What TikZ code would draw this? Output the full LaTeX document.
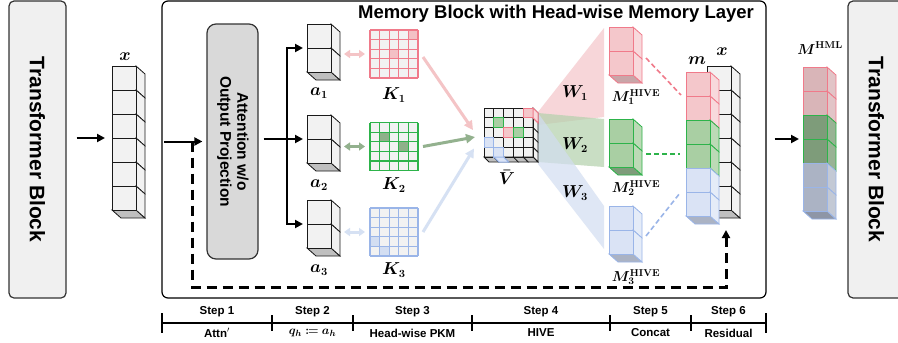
\documentclass[tikz,border=0pt]{standalone}
\usepackage[no-math]{fontspec}
\setmainfont{Liberation Sans}
\usepackage{amsmath,mathtools,bm}
\usetikzlibrary{arrows.meta,calc}
\definecolor{cellgray}{HTML}{F2F2F2}
\definecolor{botgray}{HTML}{BFBFBF}
\definecolor{lineblk}{HTML}{1A1A1A}
\definecolor{tbline}{HTML}{333333}
\definecolor{pkL}{HTML}{F07A8A}
\definecolor{pkF}{HTML}{F4C7CB}
\definecolor{pkS}{HTML}{F8D9DC}
\definecolor{pkB}{HTML}{C9A5A8}
\definecolor{gnL}{HTML}{2DB34A}
\definecolor{gnF}{HTML}{A9CFA3}
\definecolor{gnS}{HTML}{BCDAB6}
\definecolor{gnB}{HTML}{7E9C7A}
\definecolor{blL}{HTML}{9AB5E8}
\definecolor{blF}{HTML}{DAE3F5}
\definecolor{blS}{HTML}{E5ECF8}
\definecolor{blB}{HTML}{ABB3C4}
\definecolor{hpF}{HTML}{D9B5B8}
\definecolor{hpS}{HTML}{E2C4C7}
\definecolor{hgF}{HTML}{7E9C7A}
\definecolor{hgS}{HTML}{98B394}
\definecolor{hbF}{HTML}{ABB3C4}
\definecolor{hbS}{HTML}{C3C9D5}
\definecolor{hbB}{HTML}{8E96A6}
\definecolor{arPk}{HTML}{F4C4C6}
\definecolor{arGn}{HTML}{93B18E}
\definecolor{arBl}{HTML}{D6E1F3}
\definecolor{kPk}{HTML}{F3C0C5}
\definecolor{kGn}{HTML}{8FB08A}
\definecolor{kBl}{HTML}{D3DEF2}
\definecolor{wPk}{HTML}{F2BCC0}
\definecolor{wGn}{HTML}{B3D1AC}
\definecolor{wBl}{HTML}{D2DDF1}
\definecolor{tbfill}{HTML}{F0F0F0}
\definecolor{attfill}{HTML}{D9D9D9}

\newcommand{\ccell}[5]{%
  \filldraw[fill=#5,draw=#4,cubeline] (#1+24,#2) -- ++(9,8) -- ++(0,24) -- ++(-9,-8) -- cycle;
  \filldraw[fill=#3,draw=#4,cubeline] (#1,#2) rectangle ++(24,24);}
\newcommand{\cbottom}[4]{%
  \filldraw[fill=#3,draw=#4,cubeline] (#1,#2) -- ++(24,0) -- ++(9,8) -- ++(-24,0) -- cycle;}
\newcommand{\kcell}[4]{\fill[#4] ($(#1.north west)+(#3*9.6,#2*9.6)$) rectangle ++(9.6,9.6);}
\newcommand{\kgrid}[2]{%
  \foreach \i in {0,...,5}{%
    \draw[#2,kline] ($(#1.north west)+(\i*9.6,0)$) -- ($(#1.south west)+(\i*9.6,0)$);
    \draw[#2,kline] ($(#1.north west)+(0,\i*9.6)$) -- ($(#1.north east)+(0,\i*9.6)$);}}

\begin{document}
\begin{tikzpicture}[x=1pt,y=-1pt,
  cubeline/.style={line width=0.8pt},
  kline/.style={line width=1.2pt},
  anchorbox/.style={rectangle,draw=none,fill=none,inner sep=0pt,outer sep=0pt},
  tb/.style={rectangle,rounded corners=5pt,draw=tbline,line width=1.2pt,fill=tbfill,
    minimum width=57pt,minimum height=297pt,inner sep=0pt,font=\fontsize{21}{25}\selectfont\bfseries},
  mbox/.style={rectangle,rounded corners=6pt,draw=black,line width=1.2pt,fill=white,
    minimum width=604pt,minimum height=297pt,inner sep=0pt},
  attn/.style={rectangle,rounded corners=9pt,draw=tbline,line width=1.2pt,fill=attfill,
    minimum width=51pt,minimum height=235pt,inner sep=0pt,font=\fontsize{15.5}{18}\selectfont\bfseries},
  ttl/.style={inner sep=0pt,font=\fontsize{18.5}{22}\selectfont\bfseries},
  mlab/.style={inner sep=0pt,font=\fontsize{16}{19}\selectfont},
  hlab/.style={inner sep=0pt,font=\fontsize{14.5}{17}\selectfont},
  steplab/.style={inner sep=0pt,font=\fontsize{11.5}{13}\selectfont\bfseries},
  barline/.style={line width=1.3pt,draw=black},
  arr/.style={-{Triangle[length=8pt,width=8pt]},line width=2pt,draw=black},
  dbl/.style={{Triangle[length=6pt,width=8pt]}-{Triangle[length=6pt,width=8pt]},line width=3pt},
  karr/.style={-{Triangle[length=9pt,width=9pt]},line width=3pt},
  dasharr/.style={-{Triangle[length=8pt,width=8pt]},line width=3pt,dash pattern=on 10pt off 6pt},
  cdash/.style={line width=1.6pt,dash pattern=on 5pt off 3pt}]
\useasboundingbox (0,0) rectangle (898,343);

% Transformer blocks and memory block frame
\node[tb] (tb1) at (37.5,149.5) {\rotatebox{-90}{Transformer Block}};
\node[tb] (tb2) at (876.5,149.5) {\rotatebox{-90}{Transformer Block}};
\node[mbox] (mb) at (464,149.5) {};
\node[ttl] (title) at (556,14) {Memory Block with Head-wise Memory Layer};

% anchor nodes (front faces)
\node[anchorbox,minimum width=24pt,minimum height=144pt] (xv) at (124,138) {};
\node[attn] (att) at (232.5,141.5) {\rotatebox{-90}{\begin{tabular}{@{}c@{}}Attention w/o\\[-1pt]Output Projection\end{tabular}}};
\node[anchorbox,minimum width=24pt,minimum height=48pt] (a1) at (319,48) {};
\node[anchorbox,minimum width=24pt,minimum height=48pt] (a2) at (319,139) {};
\node[anchorbox,minimum width=24pt,minimum height=48pt] (a3) at (319,224) {};
\node[anchorbox,minimum size=48pt,fill=cellgray] (k1) at (394,54) {};
\node[anchorbox,minimum size=48pt,fill=cellgray] (k2) at (394,146.5) {};
\node[anchorbox,minimum size=48pt,fill=cellgray] (k3) at (394,232) {};
\node[anchorbox,minimum size=49pt] (vb) at (508.5,132.5) {};
\node[anchorbox,minimum width=24pt,minimum height=48pt] (m1) at (621,51) {};
\node[anchorbox,minimum width=24pt,minimum height=48pt] (m2) at (621,143) {};
\node[anchorbox,minimum width=24pt,minimum height=48pt] (m3) at (621,230) {};
\node[anchorbox,minimum width=24pt,minimum height=144pt] (xm) at (719,138) {};
\node[anchorbox,minimum width=24pt,minimum height=144pt] (mst) at (698,144) {};
\node[anchorbox,minimum width=24pt,minimum height=144pt] (hml) at (815,139) {};

% W projections
\fill[wPk,opacity=0.6] ($(vb.north east)+(5,4)$) -- ($(m1.north west)+(-5,1)$) -- ($(m1.south west)+(-5,42)$) -- ($(vb.north east)+(5,17)$) -- cycle;
\fill[wGn,opacity=0.7] ($(vb.north east)+(5,5)$) -- ($(m2.north west)+(-5,0)$) -- ($(m2.south west)+(-5,0)$) -- ($(vb.south east)+(5,5)$) -- cycle;
\fill[wBl,opacity=0.7] ($(vb.north east)+(5,5)$) -- ($(m3.north west)+(-5,0)$) -- ($(m3.south west)+(-5,-5)$) -- ($(vb.south east)+(5,7)$) -- cycle;

% x vector
\cbottom{112}{210}{botgray}{lineblk}
\foreach \i in {0,...,5}{\pgfmathsetmacro\yy{66+24*\i}\ccell{112}{\yy}{cellgray}{lineblk}{cellgray}}

% a cubes
\cbottom{307}{72}{botgray}{lineblk}
\ccell{307}{24}{cellgray}{lineblk}{cellgray}\ccell{307}{48}{cellgray}{lineblk}{cellgray}
\cbottom{307}{163}{botgray}{lineblk}
\ccell{307}{115}{cellgray}{lineblk}{cellgray}\ccell{307}{139}{cellgray}{lineblk}{cellgray}
\cbottom{307}{248}{botgray}{lineblk}
\ccell{307}{200}{cellgray}{lineblk}{cellgray}\ccell{307}{224}{cellgray}{lineblk}{cellgray}

% K grids
\kcell{k1}{0}{4}{kPk}\kcell{k1}{2}{2}{kPk}\kgrid{k1}{pkL}
\kcell{k2}{1}{1}{kGn}\kcell{k2}{2}{3}{kGn}\kgrid{k2}{gnL}
\kcell{k3}{3}{0}{kBl}\kcell{k3}{4}{1}{kBl}\kgrid{k3}{blL}

% V bar cube
\fill[cellgray] (vb.north west) rectangle (vb.south east);
\foreach \r in {0,...,4}{\filldraw[fill=cellgray,draw=lineblk,cubeline] ($(vb.north east)+(0,9.8*\r)$) -- ++(5,5) -- ++(0,9.8) -- ++(-5,-5) -- cycle;}
\foreach \c in {0,...,4}{\filldraw[fill=botgray,draw=lineblk,cubeline] ($(vb.south west)+(9.8*\c,0)$) -- ++(9.8,0) -- ++(5,5) -- ++(-9.8,0) -- cycle;}
\foreach \i in {0,...,5}{%
  \draw[lineblk,line width=1pt] ($(vb.north west)+(9.8*\i,0)$) -- ($(vb.south west)+(9.8*\i,0)$);
  \draw[lineblk,line width=1pt] ($(vb.north west)+(0,9.8*\i)$) -- ($(vb.north east)+(0,9.8*\i)$);}
\foreach \r/\c/\f/\l in {0/4/pkF/pkL,1/1/gnF/gnL,2/2/pkF/pkL,2/3/gnF/gnL,3/0/blF/blL,4/1/blF/blL}{%
  \filldraw[fill=\f,draw=\l,line width=1pt] ($(vb.north west)+(9.8*\c,9.8*\r)$) rectangle ++(9.8,9.8);}
\filldraw[fill=pkS,draw=pkL,line width=1pt] (vb.north east) -- ++(5,5) -- ++(0,9.8) -- ++(-5,-5) -- cycle;
\filldraw[fill=blF,draw=blL,line width=1pt] ($(vb.south west)+(9.8,0)$) -- ++(9.8,0) -- ++(5,5) -- ++(-9.8,0) -- cycle;

% M^HIVE cubes
\cbottom{609}{75}{pkB}{pkL}
\ccell{609}{27}{pkF}{pkL}{pkS}\ccell{609}{51}{pkF}{pkL}{pkS}
\cbottom{609}{167}{gnB}{gnL}
\ccell{609}{119}{gnF}{gnL}{gnS}\ccell{609}{143}{gnF}{gnL}{gnS}
\cbottom{609}{254}{blB}{blL}
\ccell{609}{206}{blF}{blL}{blS}\ccell{609}{230}{blF}{blL}{blS}

% x column in memory block, then m stack
\cbottom{707}{210}{botgray}{lineblk}
\foreach \i in {0,...,5}{\pgfmathsetmacro\yy{66+24*\i}\ccell{707}{\yy}{cellgray}{lineblk}{cellgray}}
\cbottom{686}{216}{blB}{blL}
\foreach \i/\f/\l/\s in {0/pkF/pkL/pkS,1/pkF/pkL/pkS,2/gnF/gnL/gnS,3/gnF/gnL/gnS,4/blF/blL/blS,5/blF/blL/blS}{%
  \pgfmathsetmacro\yy{72+24*\i}\ccell{686}{\yy}{\f}{\l}{\s}}

% M^HML stack
\cbottom{803}{211}{hbB}{blL}
\foreach \i/\f/\l/\s in {0/hpF/pkL/hpS,1/hpF/pkL/hpS,2/hgF/gnL/hgS,3/hgF/gnL/hgS,4/hbF/blL/hbS,5/hbF/blL/hbS}{%
  \pgfmathsetmacro\yy{67+24*\i}\ccell{803}{\yy}{\f}{\l}{\s}}

% main arrows
\draw[arr] ($(tb1.east |- xv.west)+(10,0)$) -- ($(xv.west)+(-7,0)$);
\draw[arr] ($(mb.west |- att.west)+(3,0)$) -- ($(att.west)+(-4,0)$);
\coordinate (br) at (287,0);
\draw[arr] ($(att.east |- a2.west)+(5,0)$) -- ($(a2.west)+(-4,0)$);
\draw[arr] (br |- a2.west) -- (br |- a1.west) -- ($(a1.west)+(-4,0)$);
\draw[arr] (br |- a2.west) -- (br |- a3.west) -- ($(a3.west)+(-4,0)$);
\draw[arr] ($(mb.east |- hml.west)+(8,0)$) -- ($(hml.west)+(-4,0)$);

% query-key double arrows
\draw[dbl,arPk] ($(a1.east |- k1.west)+(13,0)$) -- ($(k1.west)+(-5,0)$);
\draw[dbl,arGn] ($(a2.east |- k2.west)+(13,0)$) -- ($(k2.west)+(-5,0)$);
\draw[dbl,arBl] ($(a3.east |- k3.west)+(13,0)$) -- ($(k3.west)+(-5,0)$);

% K -> V bar
\draw[karr,arPk] ($(k1.east)+(5,3)$) -- ($(vb.west)+(-11,-2.5)$);
\draw[karr,arGn] ($(k2.east)+(5,0)$) -- ($(vb.west)+(-9,4.5)$);
\draw[karr,arBl] ($(k3.east)+(5,0)$) -- ($(vb.west)+(-10,16)$);

% concat dashed
\draw[cdash,pkL] ($(m1.east)+(13,7)$) -- ($(mst.north west)+(-5,23)$);
\draw[cdash,gnL] ($(m2.east)+(13,11)$) -- ($(mst.west)+(-6,10)$);
\draw[cdash,blL] ($(m3.east)+(13,6)$) -- ($(mst.west)+(-6,49)$);

% residual dashed
\coordinate (d0) at (192,141.5);
\coordinate (d1) at (192,287);
\coordinate (d2) at (726,287);
\coordinate (d3) at ($(xm.south)+(7,20)$);
\draw[dasharr] (d0) -- (d1) -- (d2) -- (d3);

% labels
\node[mlab] (xlab) at (125,57) {$\bm{x}$};
\node[mlab] (a1lab) at (319,93) {$\bm{a_1}$};
\node[mlab] (a2lab) at (319,185) {$\bm{a_2}$};
\node[mlab] (a3lab) at (319,270) {$\bm{a_3}$};
\node[mlab] (k1lab) at (394,95) {$\bm{K_1}$};
\node[mlab] (k2lab) at (394,185) {$\bm{K_2}$};
\node[mlab] (k3lab) at (394,270) {$\bm{K_3}$};
\node[mlab] (vblab) at (507,177) {$\bm{\bar{V}}$};
\node[mlab] (w1lab) at (575,93) {$\bm{W_1}$};
\node[mlab] (w2lab) at (575,145) {$\bm{W_2}$};
\node[mlab] (w3lab) at (575,193) {$\bm{W_3}$};
\node[hlab] (m1lab) at (636,97) {$\bm{M}^{\mathbf{HIVE}}_{\bm{1}}$};
\node[hlab] (m2lab) at (636,188) {$\bm{M}^{\mathbf{HIVE}}_{\bm{2}}$};
\node[hlab] (m3lab) at (636,277) {$\bm{M}^{\mathbf{HIVE}}_{\bm{3}}$};
\node[mlab] (mlabel) at (697,61) {$\bm{m}$};
\node[mlab] (xmlab) at (722,52) {$\bm{x}$};
\node[hlab] (hmllab) at (820,48) {$\bm{M}^{\mathbf{HML}}$};

% step bar
\foreach \n/\xx in {0/162,1/272,2/353,3/472,4/610,5/691,6/766}{\coordinate (t\n) at (\xx,323);}
\draw[barline] (t0) -- (t6);
\foreach \n in {0,6}{\draw[barline] ($(t\n)+(0,-10)$) -- ($(t\n)+(0,10)$);}
\foreach \n in {1,...,5}{\draw[barline] ($(t\n)+(0,-8)$) -- ($(t\n)+(0,8)$);}
\node[steplab] (s1) at ($(t0)!0.5!(t1)+(0,-11)$) {Step 1};
\node[steplab] (s2) at ($(t1)!0.5!(t2)+(0,-11)$) {Step 2};
\node[steplab] (s3) at ($(t2)!0.5!(t3)+(0,-11)$) {Step 3};
\node[steplab] (s4) at ($(t3)!0.5!(t4)+(0,-11)$) {Step 4};
\node[steplab] (s5) at ($(t4)!0.5!(t5)+(0,-11)$) {Step 5};
\node[steplab] (s6) at ($(t5)!0.5!(t6)+(0,-11)$) {Step 6};
\node[steplab] (l1) at ($(t0)!0.5!(t1)+(0,10)$) {Attn$'$};
\node[steplab,font=\fontsize{12.5}{14}\selectfont] (l2) at ($(t1)!0.5!(t2)+(0,10)$) {$\bm{q}_{\bm{h}}\bm{\coloneqq}\bm{a}_{\bm{h}}$};
\node[steplab] (l3) at ($(t2)!0.5!(t3)+(0,10)$) {Head-wise PKM};
\node[steplab] (l4) at ($(t3)!0.5!(t4)+(0,10)$) {HIVE};
\node[steplab] (l5) at ($(t4)!0.5!(t5)+(0,10)$) {Concat};
\node[steplab] (l6) at ($(t5)!0.5!(t6)+(0,10)$) {Residual};
\end{tikzpicture}
\end{document}
